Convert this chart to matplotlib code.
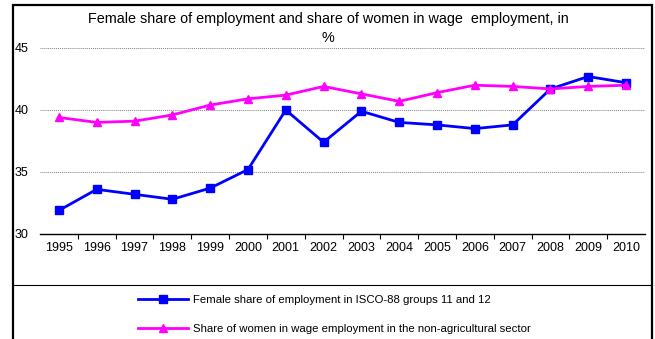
import matplotlib.pyplot as plt
from matplotlib.patches import Rectangle
from matplotlib.lines import Line2D
import numpy as np

plt.rcParams['font.family'] = ['Liberation Sans', 'DejaVu Sans']

years = ['1995', '1996', '1997', '1998', '1999', '2000', '2001', '2002',
         '2003', '2004', '2005', '2006', '2007', '2008', '2009', '2010']
isco_share = [31.9, 33.6, 33.2, 32.8, 33.7, 35.2, 40.0, 37.4,
              39.9, 39.0, 38.8, 38.5, 38.8, 41.7, 42.7, 42.2]
wage_share = [39.4, 39.0, 39.1, 39.6, 40.4, 40.9, 41.2, 41.9,
              41.3, 40.7, 41.4, 42.0, 41.9, 41.7, 41.9, 42.0]

W, H = 655, 339
fig = plt.figure(figsize=(W / 100, H / 100), dpi=100)

# outer frame and legend separator
fig.patches.append(Rectangle((13 / W, -0.02), 639 / W, 1 - 5 / H + 0.02,
                             transform=fig.transFigure, fill=False,
                             edgecolor='black', linewidth=1.6))
fig.lines.append(Line2D([13 / W, 652 / W], [1 - 285 / H, 1 - 285 / H],
                        transform=fig.transFigure, color='black', linewidth=0.8))

ax = fig.add_axes([40 / W, 1 - 234 / H, 605 / W, (234 - 48) / H])
x = np.arange(len(years))
ax.plot(x, isco_share, color='#0000FF', lw=2.0, marker='s', ms=5.5,
        label='Female share of employment in ISCO-88 groups 11 and 12', clip_on=False)
ax.plot(x, wage_share, color='#FF00FF', lw=2.0, marker='^', ms=5.5,
        label='Share of women in wage employment in the non-agricultural sector', clip_on=False)

ax.set_xlim(-0.5, len(years) - 0.5)
ax.set_ylim(30, 45)
ax.set_yticks([30, 35, 40, 45])
ax.set_xticks(x)
ax.set_xticklabels(years)
ax.set_xticks(np.arange(0.5, len(years) - 0.5, 1), minor=True)
ax.tick_params(axis='x', which='major', length=0, pad=6, labelsize=9)
ax.tick_params(axis='x', which='minor', length=3.5, width=0.8, direction='out')
ax.tick_params(axis='y', length=0, pad=8.5, labelsize=9)

for s in ['left', 'right', 'top']:
    ax.spines[s].set_visible(False)
ax.spines['bottom'].set_linewidth(1.0)
for yv in [35, 40, 45]:
    ax.axhline(yv, color='#808080', lw=0.7, ls=(0, (1, 1)), zorder=0)

fig.text(328 / W, 1 - 19 / H,
         'Female share of employment and share of women in wage  employment, in',
         ha='center', va='center', fontsize=10.4)
fig.text(328 / W, 1 - 38 / H, '%', ha='center', va='center', fontsize=10.4)

fig.legend(loc='upper left', bbox_to_anchor=(138 / W, 1 - 295 / H),
           frameon=False, fontsize=8.2, handlelength=4.4, handletextpad=0.4,
           labelspacing=1.7, borderpad=0, borderaxespad=0)

fig.savefig('out.png', dpi=100)
